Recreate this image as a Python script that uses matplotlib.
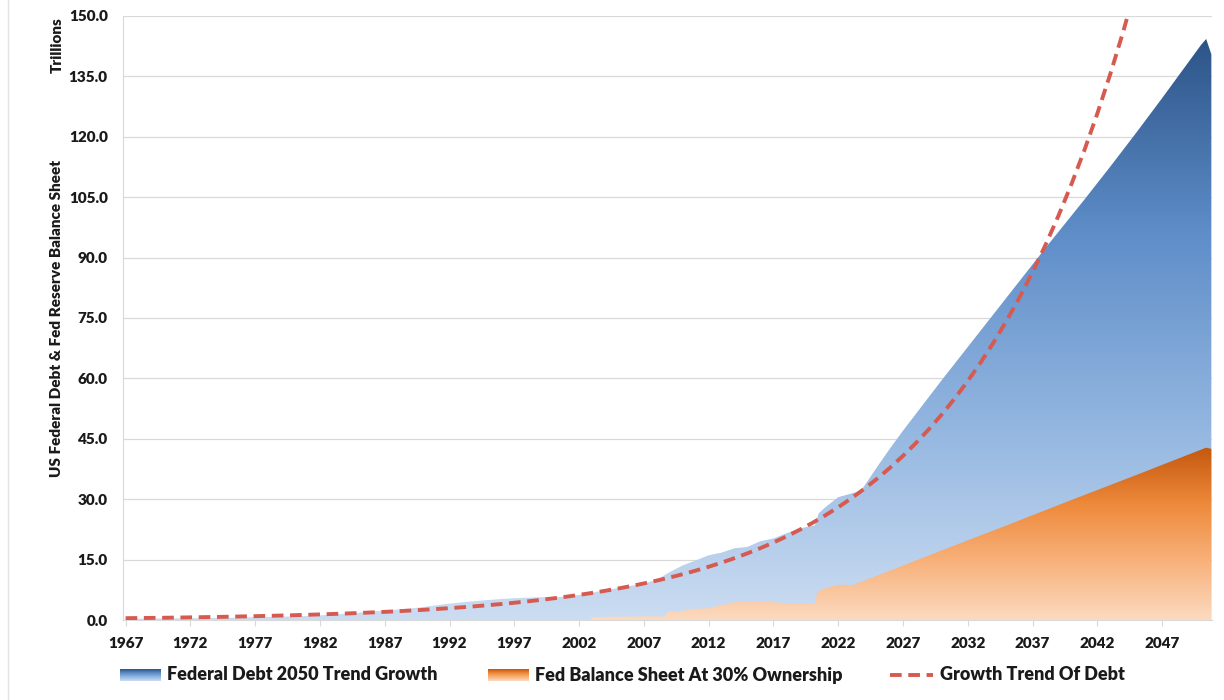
import numpy as np
import matplotlib
matplotlib.use('Agg')
import matplotlib.pyplot as plt
from matplotlib.colors import LinearSegmentedColormap
from matplotlib.lines import Line2D

plt.rcParams['font.family'] = ['Lato', 'DejaVu Sans']
plt.rcParams['font.weight'] = 'heavy'

# ---- data (trillions of USD) ----
debt_years = [1967, 1968, 1969, 1970, 1971, 1972, 1973, 1974, 1975, 1976,
              1977, 1978, 1979, 1980, 1981, 1982, 1983, 1984, 1985, 1986,
              1987, 1988, 1989, 1990, 1991, 1992, 1993, 1994, 1995, 1996,
              1997, 1998, 1999, 2000, 2001, 2002, 2003, 2004, 2005, 2006,
              2007, 2008, 2009, 2010, 2011, 2012, 2013, 2014, 2015, 2016,
              2017, 2018, 2019, 2020.2, 2020.5, 2021, 2022, 2023, 2023.7,
              2024, 2025, 2026, 2027, 2028, 2029, 2030, 2031, 2032, 2033,
              2034, 2035, 2036, 2037, 2038, 2039, 2040, 2041, 2042, 2043,
              2044, 2045, 2046, 2047, 2048, 2049, 2050, 2050.4, 2050.8]
debt_vals = [0.33, 0.35, 0.36, 0.38, 0.41, 0.44, 0.47, 0.49, 0.54, 0.63,
             0.70, 0.77, 0.83, 0.91, 1.00, 1.14, 1.38, 1.57, 1.82, 2.13,
             2.35, 2.60, 2.86, 3.23, 3.67, 4.06, 4.41, 4.69, 4.97, 5.22,
             5.41, 5.53, 5.66, 5.67, 5.81, 6.23, 6.78, 7.38, 7.93, 8.51,
             9.01, 10.02, 11.9, 13.56, 14.79, 16.07, 16.74, 17.82, 18.15, 19.57,
             20.24, 21.52, 22.72, 23.5, 26.5, 28.0, 30.5, 31.4, 32.0,
             33.2, 38.0, 42.6, 47.0, 51.2, 55.4, 59.6, 63.7, 67.8, 71.9,
             76.0, 80.1, 84.2, 88.3, 92.4, 96.4, 100.4, 104.4, 108.5, 112.6,
             116.8, 121.0, 125.3, 129.6, 134.0, 138.4, 142.8, 144.3, 140.5]

fed_years = [2002.9, 2002.95, 2004, 2005, 2006, 2007, 2008.6, 2008.9, 2009.5,
             2010, 2011, 2012, 2013, 2014, 2015, 2016, 2017, 2018, 2019,
             2019.9, 2020.2, 2020.4, 2021, 2022, 2022.5, 2023, 2023.7,
             2025, 2030, 2035, 2040, 2045, 2050.4, 2050.8]
fed_vals = [0.0, 0.72, 0.77, 0.82, 0.85, 0.89, 0.90, 2.2, 2.1,
            2.3, 2.8, 2.9, 3.7, 4.4, 4.5, 4.45, 4.45, 4.1, 3.9,
            4.2, 4.2, 7.0, 7.9, 8.7, 8.8, 8.5, 9.4,
            11.0, 17.3, 23.5, 29.8, 36.0, 42.8, 42.5]

trend_years = list(range(1967, 2046))
trend_vals = [0.45, 0.49, 0.52, 0.56, 0.61, 0.66, 0.71, 0.76, 0.82, 0.89,
              0.95, 1.03, 1.11, 1.19, 1.29, 1.39, 1.50, 1.61, 1.74, 1.88,
              2.02, 2.18, 2.35, 2.53, 2.73, 2.94, 3.17, 3.42, 3.69, 3.97,
              4.28, 4.62, 4.98, 5.37, 5.78, 6.24, 6.72, 7.25, 7.81, 8.42,
              9.08, 9.79, 10.55, 11.37, 12.26, 13.22, 14.25, 15.36, 16.56, 17.85,
              19.24, 20.74, 22.36, 24.10, 25.98, 28.01, 30.19, 32.55, 35.09, 37.82,
              40.77, 43.95, 47.38, 51.07, 55.06, 59.35, 63.98, 68.97, 74.35, 80.15,
              86.40, 93.14, 100.40, 108.23, 116.67, 125.77, 135.58, 146.16, 157.56]

xtick_years = list(range(1967, 2048, 5))
ytick_vals = list(range(0, 151, 15))

labels = ['Federal Debt 2050 Trend Growth', 'Fed Balance Sheet At 30% Ownership',
          'Growth Trend Of Debt']

blue_cols = ['#CCDDF2', '#93B6E0', '#5E8DC8', '#2C5488']
orange_cols = ['#FCDAC0', '#F8B27C', '#EE8A3C', '#C4580E']
red = '#D65A50'
grid_col = '#D9D9D9'
txt_col = '#1a1a1a'


def gradient_fill(ax, x, y, colors, z):
    poly = ax.fill_between(x, 0, y, facecolor='none', edgecolor='none', zorder=z)
    path = poly.get_paths()[0]
    grad = np.linspace(0, 1, 256).reshape(-1, 1)
    cmap = LinearSegmentedColormap.from_list('g', colors)
    im = ax.imshow(grad, extent=[x[0], x[-1], 0, max(y)], origin='lower',
                   aspect='auto', cmap=cmap, zorder=z, interpolation='bilinear')
    im.set_clip_path(path, transform=ax.transData)
    return im


fig = plt.figure(figsize=(12.24, 7.0), dpi=100)
ax = fig.add_axes([123 / 1224, 1 - 620 / 700, (1212 - 123) / 1224, (620 - 16) / 700])

gradient_fill(ax, debt_years, debt_vals, blue_cols, 2)
gradient_fill(ax, fed_years, fed_vals, orange_cols, 3)
ax.plot(trend_years, trend_vals, color=red, lw=2.8, linestyle=(0, (3.0, 1.7)),
        zorder=4)

ax.set_xlim(1966.8, 2050.85)
ax.set_ylim(0, 150)
ax.set_xticks(xtick_years)
ax.set_xticklabels([str(y) for y in xtick_years])
ax.set_yticks(ytick_vals)
ax.set_yticklabels(['%.1f' % v for v in ytick_vals])
ax.grid(axis='y', color=grid_col, lw=0.9, zorder=0)
ax.set_axisbelow(True)
for s in ['top', 'right']:
    ax.spines[s].set_visible(False)
ax.spines['left'].set_color(grid_col)
ax.spines['bottom'].set_color(grid_col)
ax.tick_params(axis='y', length=0, pad=11, labelsize=11, labelcolor=txt_col)
ax.tick_params(axis='x', length=4, color=grid_col, pad=8, labelsize=11,
               labelcolor=txt_col)

fig.text(57 / 1224, 1 - 318 / 700, 'US Federal Debt & Fed Reserve Balance Sheet',
         rotation=90, ha='center', va='center', fontsize=11, color=txt_col)
fig.text(57 / 1224, 1 - 45 / 700, 'Trillions', rotation=90, ha='center',
         va='center', fontsize=11, color=txt_col)

# legend drawn in pixel space
lax = fig.add_axes([0, 0, 1, 1], zorder=5)
lax.axis('off')
lax.patch.set_alpha(0)
grad = np.linspace(0, 1, 64).reshape(-1, 1)
for x0, cols in [(120, blue_cols), (488, orange_cols)]:
    lax.imshow(grad, extent=[x0, x0 + 41, 681, 669], origin='lower', aspect='auto',
               cmap=LinearSegmentedColormap.from_list('l', cols))
lax.add_line(Line2D([890, 933], [675, 675], color=red, lw=2.8,
                    linestyle=(0, (3.0, 1.7))))
lax.set_xlim(0, 1224)
lax.set_ylim(700, 0)
for xt, txt in zip([167, 535, 940], labels):
    lax.text(xt, 675, txt, ha='left', va='center', fontsize=13, color=txt_col)

# faint chart border on the left
fig.add_artist(Line2D([8 / 1224, 8 / 1224], [0, 1], color='#E3E3E3', lw=1))

fig.savefig('out.png', dpi=100)
